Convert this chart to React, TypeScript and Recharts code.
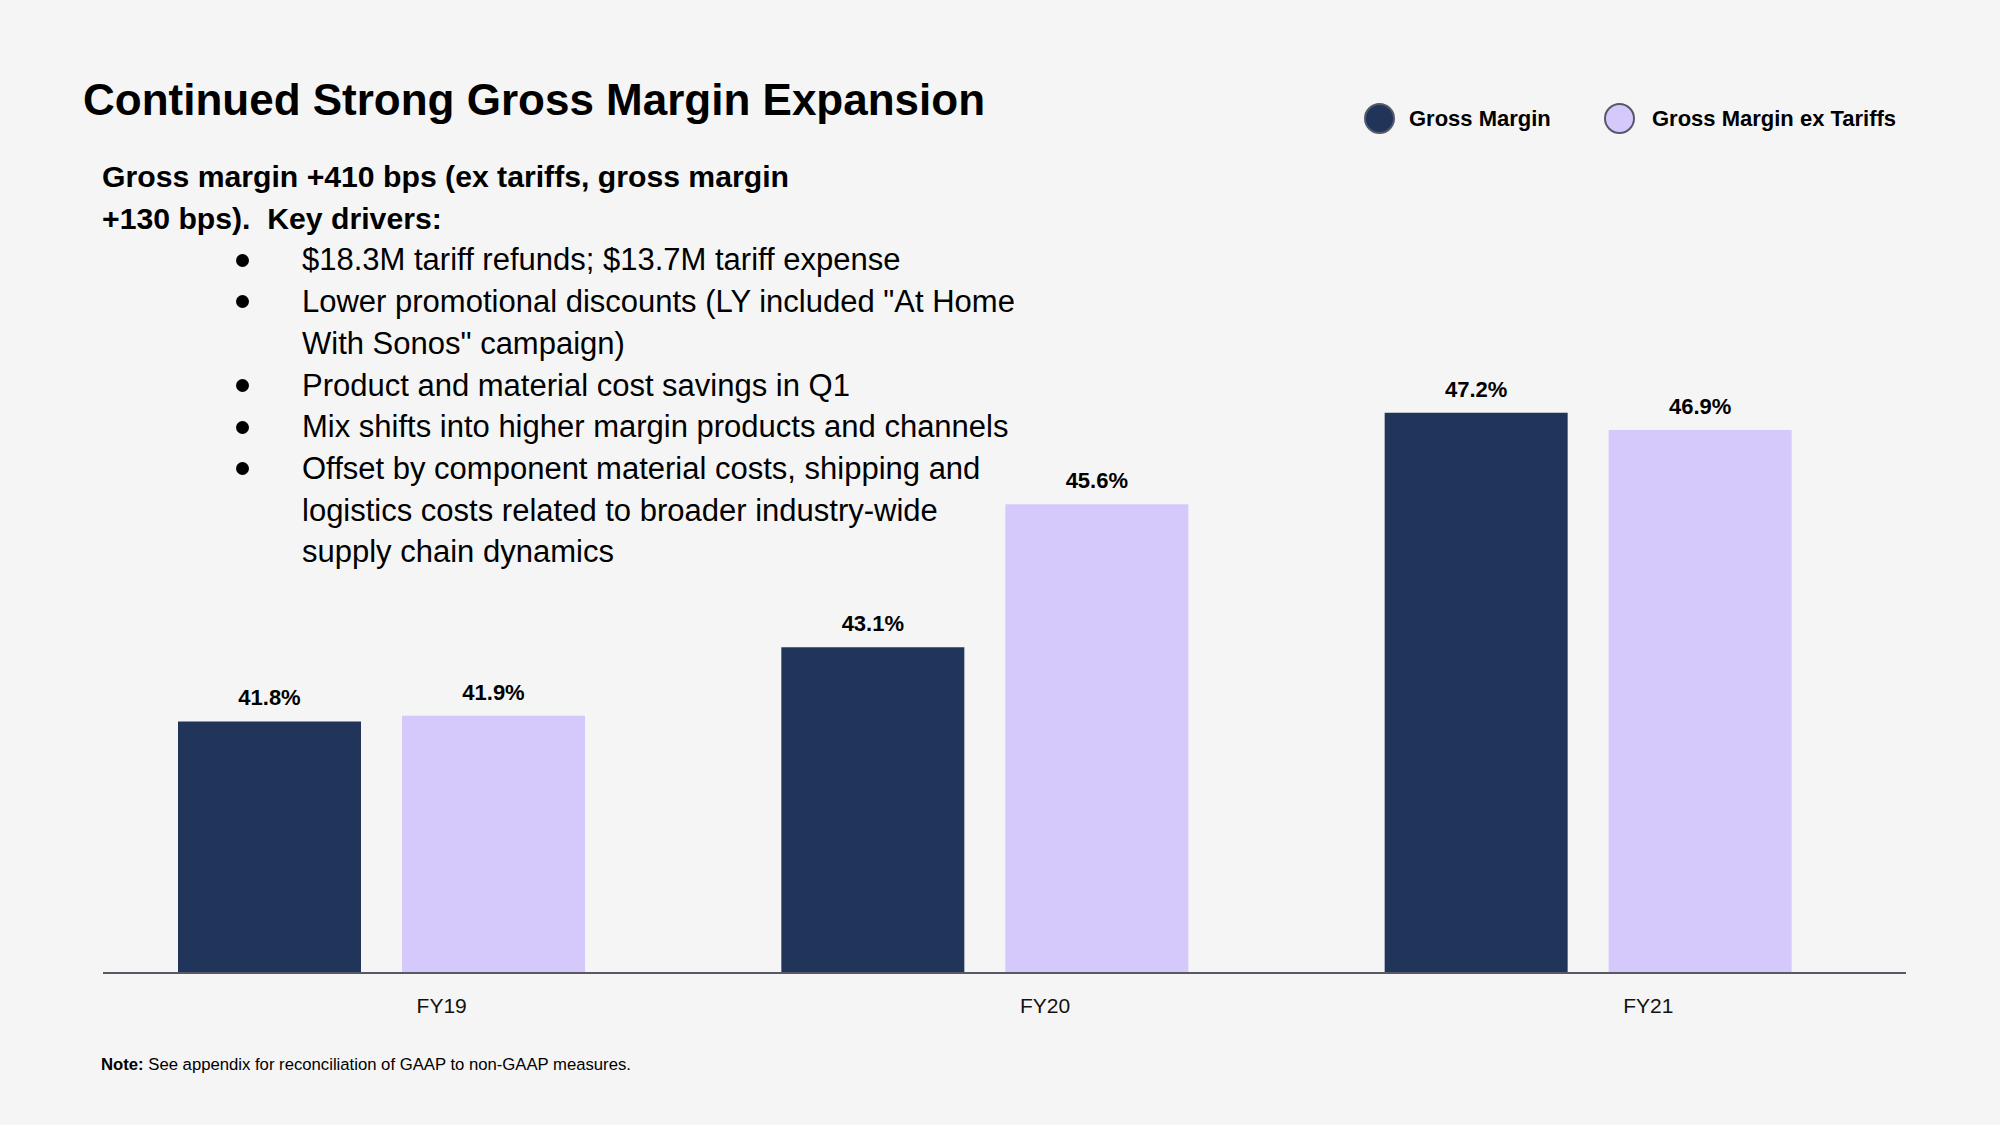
import React from 'react';
import { BarChart, Bar, XAxis, YAxis, LabelList } from 'recharts';

const years = ['FY19', 'FY20', 'FY21'];
const grossMargin = [41.8, 43.1, 47.2];
const grossMarginExTariffs = [41.9, 45.6, 46.9];
const seriesNames = ['Gross Margin', 'Gross Margin ex Tariffs'];
const seriesColors = ['#21355a', '#d5c8fb'];

const headline = ['Gross margin +410 bps (ex tariffs, gross margin', '+130 bps).  Key drivers:'];
const drivers = [
  ['$18.3M tariff refunds; $13.7M tariff expense'],
  ['Lower promotional discounts (LY included "At Home', 'With Sonos" campaign)'],
  ['Product and material cost savings in Q1'],
  ['Mix shifts into higher margin products and channels'],
  [
    'Offset by component material costs, shipping and',
    'logistics costs related to broader industry-wide',
    'supply chain dynamics',
  ],
];

const data = years.map((year, i) => ({
  year,
  gm: grossMargin[i],
  gmEx: grossMarginExTariffs[i],
}));

const FONT = '"Liberation Sans", Arial, Helvetica, sans-serif';
const LINE = 41.7;

const pct = (v: any) => `${Number(v).toFixed(1)}%`;

export default function App() {
  return (
    <div
      style={{
        position: 'absolute',
        left: 0,
        top: 0,
        width: 2000,
        height: 1125,
        background: '#f5f5f5',
        fontFamily: FONT,
        color: '#000',
        overflow: 'hidden',
      }}
    >
      <BarChart
        width={2000}
        height={1125}
        data={data}
        margin={{ top: 367, right: 94, bottom: 122, left: 103 }}
        barSize={183}
        barGap={41}
      >
        <XAxis
          dataKey="year"
          height={30}
          padding={{ left: -23, right: 16 }}
          axisLine={{ stroke: '#595966', strokeWidth: 2 }}
          tickLine={false}
          tickMargin={8}
          tick={{ fill: '#111', fontSize: 21, fontFamily: FONT, dx: 60, dy: 11 }}
        />
        <YAxis hide domain={[37.4, 48]} />
        <Bar dataKey="gm" name={seriesNames[0]} fill={seriesColors[0]} isAnimationActive={false}>
          <LabelList
            dataKey="gm"
            position="top"
            offset={16}
            formatter={pct}
            style={{ fill: '#000', fontSize: 22, fontWeight: 700, fontFamily: FONT }}
          />
        </Bar>
        <Bar dataKey="gmEx" name={seriesNames[1]} fill={seriesColors[1]} isAnimationActive={false}>
          <LabelList
            dataKey="gmEx"
            position="top"
            offset={16}
            formatter={pct}
            style={{ fill: '#000', fontSize: 22, fontWeight: 700, fontFamily: FONT }}
          />
        </Bar>
      </BarChart>

      {/* title */}
      <div
        style={{
          position: 'absolute',
          left: 83,
          top: 78,
          fontSize: 44,
          lineHeight: '44px',
          fontWeight: 700,
          whiteSpace: 'nowrap',
        }}
      >
        Continued Strong Gross Margin Expansion
      </div>

      {/* legend */}
      {seriesNames.map((name, i) => (
        <div
          key={name}
          style={{
            position: 'absolute',
            left: i === 0 ? 1364 : 1604,
            top: 103,
            height: 31,
            display: 'flex',
            alignItems: 'center',
            whiteSpace: 'nowrap',
          }}
        >
          <span
            style={{
              width: 27,
              height: 27,
              borderRadius: '50%',
              background: seriesColors[i],
              border: '2.5px solid #565a68',
              display: 'inline-block',
            }}
          />
          <span style={{ marginLeft: i === 0 ? 14 : 17, fontSize: 22, fontWeight: 700 }}>{name}</span>
        </div>
      ))}

      {/* commentary */}
      <div
        style={{
          position: 'absolute',
          left: 102,
          top: 156,
          fontSize: 30.2,
          lineHeight: `${LINE}px`,
          fontWeight: 700,
          whiteSpace: 'pre',
        }}
      >
        {headline.map((l) => (
          <div key={l}>{l}</div>
        ))}
      </div>
      <div
        style={{
          position: 'absolute',
          left: 302,
          top: 156 + LINE * 2,
          fontSize: 31,
          lineHeight: `${LINE}px`,
          whiteSpace: 'nowrap',
        }}
      >
        {drivers.map((lines) => (
          <div key={lines[0]} style={{ position: 'relative' }}>
            <span
              style={{
                position: 'absolute',
                left: -66,
                top: (LINE - 13) / 2,
                width: 13,
                height: 13,
                borderRadius: '50%',
                background: '#000',
              }}
            />
            {lines.map((l) => (
              <div key={l}>{l}</div>
            ))}
          </div>
        ))}
      </div>

      {/* footnote */}
      <div
        style={{
          position: 'absolute',
          left: 101,
          top: 1055,
          fontSize: 16.7,
          lineHeight: '20px',
          whiteSpace: 'nowrap',
        }}
      >
        <b>Note:</b> See appendix for reconciliation of GAAP to non-GAAP measures.
      </div>
    </div>
  );
}
